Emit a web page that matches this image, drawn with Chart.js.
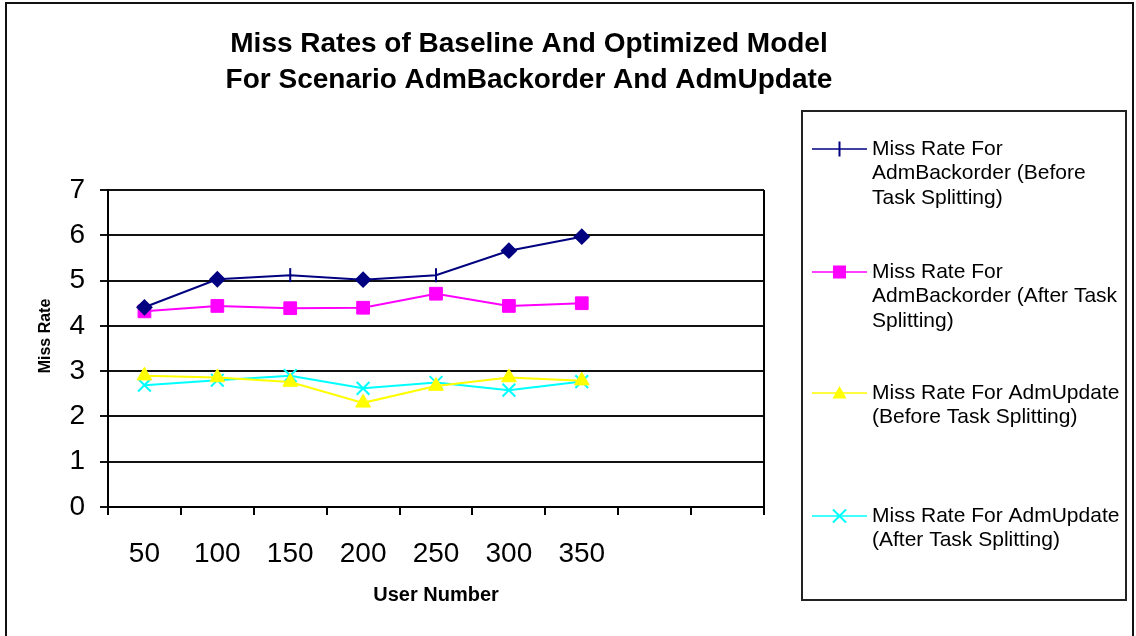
<!DOCTYPE html>
<html>
<head>
<meta charset="utf-8">
<title>Miss Rates of Baseline And Optimized Model</title>
<script src="https://cdn.jsdelivr.net/npm/chart.js@4/dist/chart.umd.min.js"></script>
<style>
  html, body { margin: 0; padding: 0; background: #fff; }
  #wrap { width: 1136px; height: 636px; }
</style>
</head>
<body>
<div id="wrap"><canvas id="c" width="1136" height="636"></canvas></div>
<script>
// ---- data ----
const userNumbers = [50, 100, 150, 200, 250, 300, 350];
const spareSlots = ['', ''];               // two empty category slots at the right of the axis
const yTicks = [0, 1, 2, 3, 4, 5, 6, 7];

const backorderBefore = [4.41, 5.03, 5.12, 5.02, 5.12, 5.66, 5.97];
const backorderAfter  = [4.32, 4.44, 4.39, 4.40, 4.71, 4.44, 4.50];
const updateBefore    = [2.90, 2.86, 2.76, 2.30, 2.67, 2.86, 2.79];
const updateAfter     = [2.69, 2.80, 2.90, 2.62, 2.75, 2.58, 2.77];

const titleLines = ['Miss Rates of Baseline And Optimized Model',
                    'For Scenario AdmBackorder And AdmUpdate'];
const yAxisTitle = 'Miss Rate';
const xAxisTitle = 'User Number';
const seriesNames = [
  ['Miss Rate For', 'AdmBackorder (Before', 'Task Splitting)'],
  ['Miss Rate For', 'AdmBackorder (After Task', 'Splitting)'],
  ['Miss Rate For AdmUpdate', '(Before Task Splitting)'],
  ['Miss Rate For AdmUpdate', '(After Task Splitting)']
];

// ---- styling ----
const FONT = 'Arial, "Liberation Sans", sans-serif';
const NAVY = '#000080', MAGENTA = '#FF00FF', YELLOW = '#FFFF00', CYAN = '#00FFFF';

// the first series mixes diamonds and vertical ticks
const navyStyles = ['rectRot', 'rectRot', 'line', 'rectRot', 'line', 'rectRot', 'rectRot'];
const navyRotation = navyStyles.map(s => s === 'line' ? 90 : 0);

const legendKinds = ['vtick', 'square', 'triangle', 'cross'];
const legendColors = [NAVY, MAGENTA, YELLOW, CYAN];

function drawLegendMarker(ctx, kind, x, y, color) {
  ctx.save();
  ctx.strokeStyle = color; ctx.fillStyle = color; ctx.lineWidth = 2;
  ctx.beginPath();
  if (kind === 'vtick') {
    ctx.moveTo(x, y - 7.5); ctx.lineTo(x, y + 7.5); ctx.stroke();
  } else if (kind === 'square') {
    ctx.fillRect(x - 6.5, y - 6.5, 13, 13);
  } else if (kind === 'triangle') {
    ctx.moveTo(x, y - 7); ctx.lineTo(x + 7, y + 5.5); ctx.lineTo(x - 7, y + 5.5); ctx.closePath(); ctx.fill();
  } else {
    ctx.moveTo(x - 6.5, y - 6.5); ctx.lineTo(x + 6.5, y + 6.5);
    ctx.moveTo(x + 6.5, y - 6.5); ctx.lineTo(x - 6.5, y + 6.5); ctx.stroke();
  }
  ctx.restore();
}

// frame, heading, y-axis caption, plot-area right edge and the boxed legend
const decorations = {
  id: 'decorations',
  beforeDatasetsDraw(chart) {
    const { ctx, chartArea } = chart;
    ctx.save();
    ctx.strokeStyle = '#000'; ctx.lineWidth = 2;
    ctx.beginPath();
    ctx.moveTo(chartArea.right, chartArea.top);
    ctx.lineTo(chartArea.right, chartArea.bottom);
    ctx.stroke();
    ctx.restore();
  },
  afterDraw(chart) {
    const { ctx } = chart;
    ctx.save();
    // outer frame
    ctx.strokeStyle = '#111'; ctx.lineWidth = 2;
    ctx.strokeRect(6, 3, 1127, 640);

    // heading
    ctx.fillStyle = '#000';
    ctx.font = 'bold 28px ' + FONT;
    ctx.textAlign = 'center'; ctx.textBaseline = 'middle';
    titleLines.forEach((t, i) => ctx.fillText(t, 529, 44 + i * 36));

    // y-axis caption
    ctx.save();
    ctx.translate(46, 336);
    ctx.rotate(-Math.PI / 2);
    ctx.font = 'bold 16px ' + FONT;
    ctx.fillText(yAxisTitle, 0, 0);
    ctx.restore();

    // legend box
    ctx.strokeStyle = '#222'; ctx.lineWidth = 2;
    ctx.strokeRect(802, 111, 324, 489);
    const firstLineY = [149, 272, 393, 516];
    ctx.font = '21px ' + FONT;
    ctx.textAlign = 'left';
    seriesNames.forEach((lines, i) => {
      const y0 = firstLineY[i];
      ctx.strokeStyle = legendColors[i]; ctx.lineWidth = 1.5;
      ctx.beginPath(); ctx.moveTo(812, y0); ctx.lineTo(867, y0); ctx.stroke();
      drawLegendMarker(ctx, legendKinds[i], 839.5, y0, legendColors[i]);
      ctx.fillStyle = '#000';
      lines.forEach((t, j) => ctx.fillText(t, 872, y0 + j * 24.5));
    });
    ctx.restore();
  }
};

const categoryLabels = userNumbers.map(String).concat(spareSlots);

new Chart(document.getElementById('c'), {
  type: 'line',
  data: {
    labels: categoryLabels,
    datasets: [
      {
        label: seriesNames[0].join(' '),
        data: backorderBefore,
        borderColor: NAVY, backgroundColor: NAVY, borderWidth: 2,
        pointStyle: navyStyles, rotation: navyRotation,
        pointRadius: 7, pointBorderWidth: 2,
        pointBackgroundColor: NAVY, pointBorderColor: NAVY
      },
      {
        label: seriesNames[1].join(' '),
        data: backorderAfter,
        borderColor: MAGENTA, backgroundColor: MAGENTA, borderWidth: 2,
        pointStyle: 'rect', pointRadius: 9, pointBorderWidth: 1,
        pointBackgroundColor: MAGENTA, pointBorderColor: MAGENTA
      },
      {
        label: seriesNames[2].join(' '),
        data: updateBefore,
        borderColor: YELLOW, backgroundColor: YELLOW, borderWidth: 2,
        pointStyle: 'triangle', pointRadius: 8.5, pointBorderWidth: 1,
        pointBackgroundColor: YELLOW, pointBorderColor: YELLOW
      },
      {
        label: seriesNames[3].join(' '),
        data: updateAfter,
        borderColor: CYAN, backgroundColor: CYAN, borderWidth: 2,
        pointStyle: 'crossRot', pointRadius: 9, pointBorderWidth: 2,
        pointBackgroundColor: CYAN, pointBorderColor: CYAN
      }
    ]
  },
  options: {
    responsive: false,
    animation: false,
    devicePixelRatio: 1,
    layout: { padding: { left: 6, top: 190, right: 372, bottom: 0 } },
    elements: { line: { tension: 0 } },
    plugins: {
      legend: { display: false },
      title: { display: false },
      tooltip: { enabled: false }
    },
    scales: {
      x: {
        offset: true,
        grid: { offset: true, drawOnChartArea: false, color: '#000', lineWidth: 2, tickLength: 8 },
        border: { color: '#000', width: 2 },
        ticks: { color: '#000', font: { family: FONT, size: 28 }, padding: 22, maxRotation: 0, autoSkip: false },
        title: { display: true, text: xAxisTitle, color: '#000',
                 font: { family: FONT, size: 20, weight: 'bold' }, padding: { top: 0, bottom: 29 } },
        afterFit(scale) { scale.height = 129; }
      },
      y: {
        min: yTicks[0], max: yTicks[yTicks.length - 1],
        afterBuildTicks(scale) { scale.ticks = yTicks.map(v => ({ value: v })); },
        grid: { color: '#111', lineWidth: 2, tickLength: 8 },
        border: { color: '#000', width: 2 },
        ticks: { color: '#000', font: { family: FONT, size: 28 }, padding: 15 },
        title: { display: false },
        afterFit(scale) { scale.width = 102; }
      }
    }
  },
  plugins: [decorations]
});
</script>
</body>
</html>
